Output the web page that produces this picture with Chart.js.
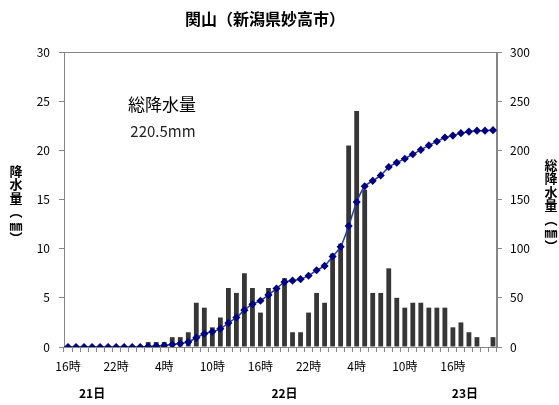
<!DOCTYPE html>
<html>
<head>
<meta charset="utf-8">
<script src="https://cdn.jsdelivr.net/npm/chart.js@4"></script>
<style>
  html, body { margin: 0; padding: 0; background: #fff; }
  #wrap { width: 559px; height: 405px; }
</style>
</head>
<body>
<div id="wrap"><canvas id="graph"></canvas></div>
<script>
// hours, 21日 16時 .. 23日 21時
const hours = [16,17,18,19,20,21,22,23,
  0,1,2,3,4,5,6,7,8,9,10,11,12,13,14,15,16,17,18,19,20,21,22,23,
  0,1,2,3,4,5,6,7,8,9,10,11,12,13,14,15,16,17,18,19,20,21];
const hourLabels = hours.map(h => h + '時');

// hourly precipitation (mm)
const rain = [0,0,0,0,0,0,0,0,0,0,
  0.5,0.5,0.5,1.0,1.0,1.5,4.5,4.0,2.0,3.0,
  6.0,5.5,7.5,6.0,3.5,6.0,6.0,7.0,1.5,1.5,
  3.5,5.5,4.5,9.5,10.5,20.5,24.0,16.0,5.5,5.5,
  8.0,5.0,4.0,4.5,4.5,4.0,4.0,4.0,2.0,2.5,
  1.5,1.0,0,1.0];

// total precipitation (mm)
const total = [0,0,0,0,0,0,0,0,0,0,
  0.5,1.0,1.5,2.5,3.5,5.0,9.5,13.5,15.5,18.5,
  24.5,30.0,37.5,43.5,47.0,53.0,59.5,66.0,67.5,69.0,
  72.5,78.0,82.5,92.0,102.0,123.0,147.5,163.5,169.0,174.5,
  183.0,187.5,191.5,196.0,200.5,205.0,209.0,213.0,215.0,217.5,
  219.0,220.0,220.0,220.5];

const dayLabels = ['21日', '22日', '23日'];
const dayPos = [3, 27, 49.5];
const chartTitle = '関山（新潟県妙高市）';
const leftTitle = ['降', '水', '量', '︵', '㎜', '︶'];
const rightTitle = ['総', '降', '水', '量', '︵', '㎜', '︶'];

const FONT = '"Noto Sans CJK JP", "Noto Sans", sans-serif';
Chart.defaults.font.family = FONT;
Chart.defaults.color = '#000';

const axisGray = '#868686';

// frame, titles and extra texts
const extraText = {
  id: 'extraText',
  beforeDatasetsDraw(chart) {
    const c = chart.ctx;
    const a = chart.chartArea;
    c.save();
    c.strokeStyle = axisGray;
    c.lineWidth = 1;
    c.strokeRect(Math.round(a.left) + 0.5, Math.round(a.top) + 0.5,
      Math.round(a.right - a.left) - 1, Math.round(a.bottom - a.top));
    c.restore();
  },
  afterDraw(chart) {
    const c = chart.ctx;
    const x = chart.scales.x;
    c.save();
    c.fillStyle = '#000';
    c.textAlign = 'center';
    c.textBaseline = 'middle';

    c.font = 'bold 16px ' + FONT;
    c.fillText(chartTitle, 265, 19);

    c.font = 'bold 13px ' + FONT;
    leftTitle.forEach((ch, i) => c.fillText(ch, 16, 171 + i * 13.5));
    rightTitle.forEach((ch, i) => c.fillText(ch, 551, 165 + i * 13.5));

    c.font = 'bold 12px ' + FONT;
    dayLabels.forEach((d, i) => c.fillText(d, x.getPixelForValue(dayPos[i]), 393));

    c.font = '17px ' + FONT;
    c.fillText('総降水量', 162, 105);
    c.fillStyle = '#222';
    c.font = '15px ' + FONT;
    c.fillText('220.5mm', 163, 131);
    c.restore();
  }
};

const ctx = document.getElementById('graph').getContext('2d');
const chart = new Chart(ctx, {
  type: 'bar',
  data: {
    labels: hourLabels,
    datasets: [{
      type: 'line',
      label: '総降水量',
      data: total,
      yAxisID: 'y2',
      borderColor: '#2b3aa8',
      borderWidth: 1.5,
      tension: 0.25,
      pointStyle: 'rectRot',
      pointRadius: 3,
      pointBackgroundColor: '#000080',
      pointBorderColor: '#000080',
      order: 0
    }, {
      type: 'bar',
      label: '降水量',
      data: rain,
      yAxisID: 'y',
      backgroundColor: '#363636',
      barPercentage: 0.6,
      categoryPercentage: 1.0,
      order: 1
    }]
  },
  options: {
    responsive: true,
    maintainAspectRatio: false,
    animation: false,
    layout: { padding: { top: 52, left: 0, right: 0, bottom: 0 } },
    plugins: {
      legend: { display: false },
      title: { display: false },
      tooltip: { enabled: false }
    },
    scales: {
      x: {
        offset: true,
        border: { display: true, color: axisGray },
        grid: { offset: true, drawOnChartArea: false, drawTicks: true, tickLength: 5, color: axisGray },
        ticks: {
          autoSkip: false,
          maxRotation: 0,
          padding: 7,
          font: { size: 12 },
          callback: function(val, i) { return i % 6 === 0 ? hourLabels[i] : ''; }
        },
        afterFit: function(s) { s.height = 58; }
      },
      y: {
        position: 'left',
        min: 0,
        max: 30,
        border: { display: true, color: axisGray },
        grid: { drawOnChartArea: false, drawTicks: true, tickLength: 5, color: axisGray },
        ticks: { stepSize: 5, padding: 9, font: { size: 12 } },
        afterFit: function(s) { s.width = 64; }
      },
      y2: {
        position: 'right',
        min: 0,
        max: 300,
        border: { display: true, color: axisGray },
        grid: { drawOnChartArea: false, drawTicks: true, tickLength: 5, color: axisGray },
        ticks: { stepSize: 50, padding: 8, font: { size: 12 } },
        afterFit: function(s) { s.width = 62; }
      }
    }
  },
  plugins: [extraText]
});
</script>
</body>
</html>
